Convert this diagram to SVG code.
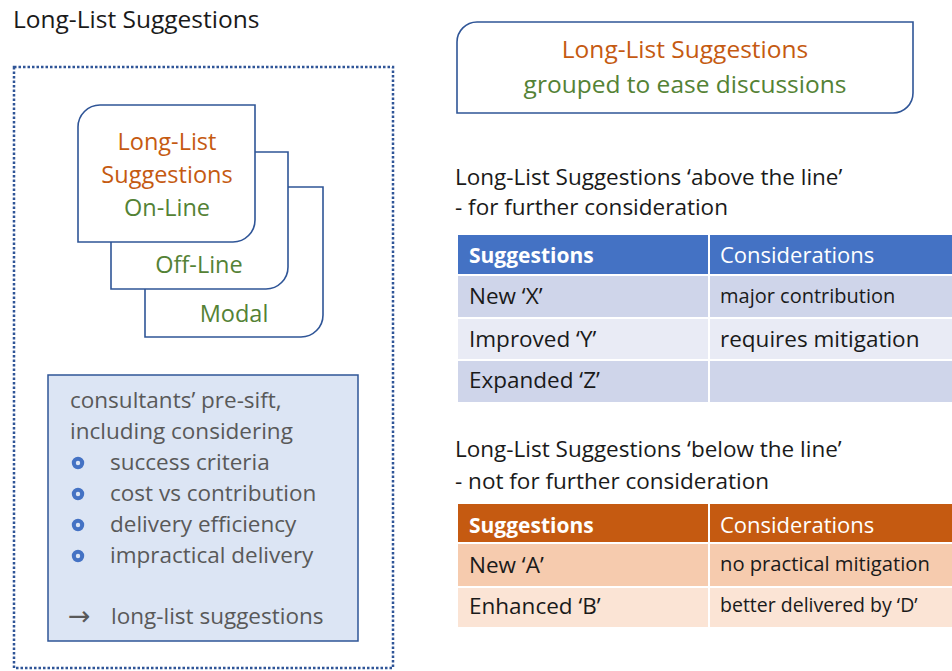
<svg xmlns="http://www.w3.org/2000/svg" width="952" height="671" viewBox="0 0 952 671">
<style>
text{font-family:"Open Sans","Noto Sans","Liberation Sans",sans-serif;}
.card{fill:#fff;stroke:#2F5597;stroke-width:1.6;}
.or{fill:#C55A11;}
.gr{fill:#548235;}
.gy{fill:#595959;font-size:22.5px;}
.dk{fill:#1a1a1a;font-size:22.5px;}
.th{fill:#fff;font-size:22px;}
.thb{fill:#fff;font-size:21px;font-weight:bold;}
.bul{fill:none;stroke:#4472C4;stroke-width:4;}
</style>
<rect width="952" height="671" fill="#fff"/>
<text x="13" y="28" font-size="24.5" fill="#1a1a1a">Long-List Suggestions</text>
<rect x="14" y="67" width="379" height="601" fill="none" stroke="#2F5597" stroke-width="2.5" stroke-dasharray="2.5 2"/>

<g id="card-modal">
<path class="card" d="M145,209 A22,22 0 0 1 167,187 H323 V315 A22,22 0 0 1 301,337 H145 Z"/>
<text x="234" y="322" font-size="23.5" class="gr" text-anchor="middle">Modal</text>
</g>
<g id="card-offline">
<path class="card" d="M111,174 A22,22 0 0 1 133,152 H288 V267 A22,22 0 0 1 266,289 H111 Z"/>
<text x="199" y="273" font-size="23.5" class="gr" text-anchor="middle">Off-Line</text>
</g>
<g id="card-online">
<path class="card" d="M78,127 A22,22 0 0 1 100,105 H255 V220 A22,22 0 0 1 233,242 H78 Z"/>
<text x="167" y="150" font-size="23.5" class="or" text-anchor="middle">Long-List</text>
<text x="167" y="183" font-size="23.5" class="or" text-anchor="middle">Suggestions</text>
<text x="167" y="216" font-size="23.5" class="gr" text-anchor="middle">On-Line</text>
</g>

<g id="presift">
<rect x="48" y="375" width="310" height="266" fill="#DCE5F4" stroke="#2F5597" stroke-width="1.5"/>
<text x="70" y="408" class="gy">consultants’ pre-sift,</text>
<text x="70" y="439" class="gy">including considering</text>
<circle cx="78" cy="463" r="4.2" class="bul"/>
<text x="110" y="470" class="gy">success criteria</text>
<circle cx="78" cy="494" r="4.2" class="bul"/>
<text x="110" y="501" class="gy">cost vs contribution</text>
<circle cx="78" cy="525" r="4.2" class="bul"/>
<text x="110" y="532" class="gy">delivery efficiency</text>
<circle cx="78" cy="556" r="4.2" class="bul"/>
<text x="110" y="563" class="gy">impractical delivery</text>
<text x="68" y="625" style="font-family:'DejaVu Sans',sans-serif;font-size:27px;fill:#595959">→</text>
<text x="111" y="624" class="gy">long-list suggestions</text>
</g>

<g id="grouped">
<path class="card" d="M457,42 A20,20 0 0 1 477,22 H913 V93 A20,20 0 0 1 893,113 H457 Z"/>
<text x="685" y="58" font-size="24.5" class="or" text-anchor="middle">Long-List Suggestions</text>
<text x="685" y="93" font-size="24.5" class="gr" text-anchor="middle">grouped to ease discussions</text>
</g>

<g id="above-heading">
<text x="455" y="185" class="dk">Long-List Suggestions ‘above the line’</text>
<text x="455" y="215" class="dk">- for further consideration</text>
</g>

<g id="table-above">
<rect x="458" y="235" width="250" height="39" fill="#4472C4"/>
<rect x="710" y="235" width="242" height="39" fill="#4472C4"/>
<rect x="458" y="276" width="250" height="41" fill="#CFD5EA"/>
<rect x="710" y="276" width="242" height="41" fill="#CFD5EA"/>
<rect x="458" y="319" width="250" height="40" fill="#E9EBF5"/>
<rect x="710" y="319" width="242" height="40" fill="#E9EBF5"/>
<rect x="458" y="361" width="250" height="41" fill="#CFD5EA"/>
<rect x="710" y="361" width="242" height="41" fill="#CFD5EA"/>
<text x="469" y="263" class="thb">Suggestions</text>
<text x="720" y="263" class="th">Considerations</text>
<text x="469" y="304" class="dk">New ‘X’</text>
<text x="720" y="303" class="dk" style="font-size:20px">major contribution</text>
<text x="469" y="347" class="dk">Improved ‘Y’</text>
<text x="720" y="347" class="dk">requires mitigation</text>
<text x="469" y="388" class="dk">Expanded ‘Z’</text>
</g>

<g id="below-heading">
<text x="455" y="457" class="dk">Long-List Suggestions ‘below the line’</text>
<text x="455" y="489" class="dk">- not for further consideration</text>
</g>

<g id="table-below">
<rect x="458" y="504" width="250" height="38" fill="#C55A11"/>
<rect x="710" y="504" width="242" height="38" fill="#C55A11"/>
<rect x="458" y="544" width="250" height="42" fill="#F6CBAE"/>
<rect x="710" y="544" width="242" height="42" fill="#F6CBAE"/>
<rect x="458" y="588" width="250" height="39" fill="#FBE4D5"/>
<rect x="710" y="588" width="242" height="39" fill="#FBE4D5"/>
<text x="469" y="533" class="thb">Suggestions</text>
<text x="720" y="533" class="th">Considerations</text>
<text x="469" y="573" class="dk">New ‘A’</text>
<text x="720" y="571" class="dk" style="font-size:20.2px">no practical mitigation</text>
<text x="469" y="614" class="dk">Enhanced ‘B’</text>
<text x="720" y="612" class="dk" style="font-size:19.5px">better delivered by ‘D’</text>
</g>
</svg>
